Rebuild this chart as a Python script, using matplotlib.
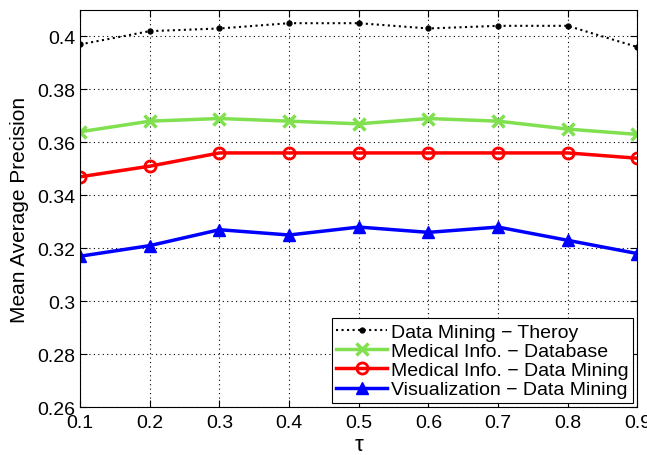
import matplotlib
matplotlib.use('Agg')
import matplotlib.pyplot as plt
import numpy as np

tau = [0.1, 0.2, 0.3, 0.4, 0.5, 0.6, 0.7, 0.8, 0.9]
dm_theory = [0.397, 0.402, 0.403, 0.405, 0.405, 0.403, 0.404, 0.404, 0.396]
med_db = [0.364, 0.368, 0.369, 0.368, 0.367, 0.369, 0.368, 0.365, 0.363]
med_dm = [0.347, 0.351, 0.356, 0.356, 0.356, 0.356, 0.356, 0.356, 0.354]
vis_dm = [0.317, 0.321, 0.327, 0.325, 0.328, 0.326, 0.328, 0.323, 0.318]

plt.rcParams['font.family'] = ['Liberation Sans', 'DejaVu Sans']

fig = plt.figure(figsize=(6.47, 4.56), dpi=100)
ax = fig.add_axes([0.124, 0.105, 0.861, 0.871])

ax.plot(tau, dm_theory, color='black', linestyle=':', linewidth=1.5, marker='.', markersize=7, label='Data Mining \u2212 Theroy')
ax.plot(tau, med_db, color='#80e050', linewidth=2.5, marker='x', markersize=8, markeredgewidth=2.5, label='Medical Info. \u2212 Database')
ax.plot(tau, med_dm, color='#ff0000', linewidth=2.5, marker='o', markersize=8, markerfacecolor='none', markeredgewidth=2, label='Medical Info. \u2212 Data Mining')
ax.plot(tau, vis_dm, color='#0000ff', linewidth=2.5, marker='^', markersize=9, label='Visualization \u2212 Data Mining')

ax.set_xlim(0.1, 0.9)
ax.set_ylim(0.26, 0.41)
ax.set_xticks(tau)
ax.set_xticklabels(['0.1', '0.2', '0.3', '0.4', '0.5', '0.6', '0.7', '0.8', '0.9'])
ax.set_yticks(np.arange(0.26, 0.401, 0.02))
ax.set_yticklabels(['0.26', '0.28', '0.3', '0.32', '0.34', '0.36', '0.38', '0.4'])
ax.tick_params(direction='in', labelsize=14, top=True, right=True, length=5)
ax.tick_params(axis='x', pad=5)
ax.grid(True, color='black', linestyle=(0, (1, 3)), linewidth=0.8)

ax.set_xlabel('\u03c4', fontsize=16, labelpad=2)
ax.set_ylabel('Mean Average Precision', fontsize=15, labelpad=6)

leg = ax.legend(loc='lower right', fontsize=14, fancybox=False, edgecolor='black',
                framealpha=1, borderaxespad=0.2, handlelength=2.6, labelspacing=0.08,
                borderpad=0.25, handletextpad=0.2)
leg.get_frame().set_linewidth(0.8)

fig.savefig('out.png', dpi=100)
